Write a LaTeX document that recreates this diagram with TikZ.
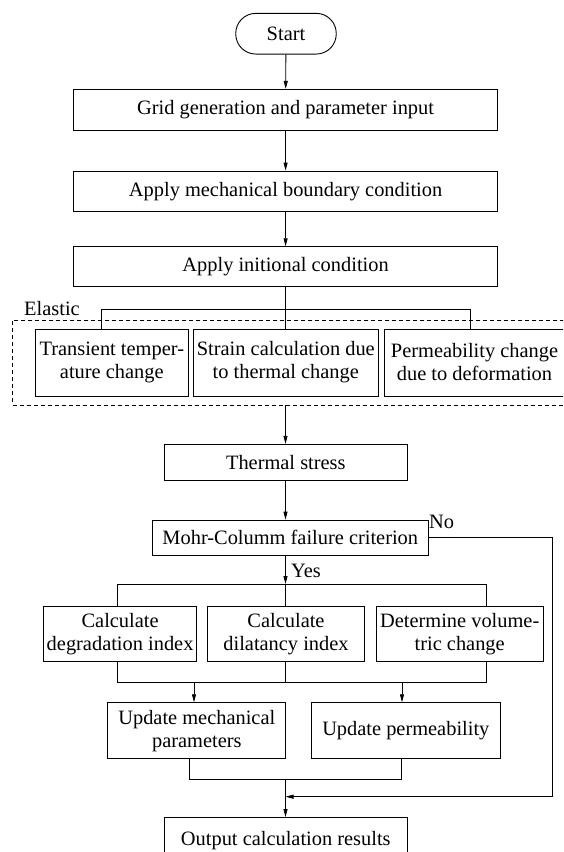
\documentclass[tikz,border=0pt]{standalone}
\usepackage{fontspec}
\setmainfont{Liberation Serif}
\usetikzlibrary{arrows.meta}
\tikzset{
  box/.style={draw, line width=0.9pt, inner sep=0pt, align=center, font=\fontsize{20.4}{23}\selectfont},
  term/.style={box, rounded corners=20pt},
  conn/.style={line width=0.8pt},
  arr/.style={conn, -{Triangle[length=8pt,width=4pt]}},
  lbl/.style={inner sep=0pt, font=\fontsize{20.4}{23}\selectfont},
  dashbox/.style={draw, dashed, line width=0.8pt, dash pattern=on 4pt off 3pt, inner sep=0pt}
}
\begin{document}
\begin{tikzpicture}[x=1pt,y=-1pt]
\useasboundingbox (0,0) rectangle (563,852);
\clip (0,0) rectangle (563,852);
\fill[white] (0,0) rectangle (563,852);
\coordinate (ax) at (285.5,0);

\node[term, minimum width=100.5pt, minimum height=40.7pt] (start) at (286,33.7) {Start};
\node[box, minimum width=424pt, minimum height=40.7pt] (grid) at (285.6,109.7) {Grid generation and parameter input};
\node[box, minimum width=424pt, minimum height=40.3pt] (mech) at (285.6,191.2) {Apply mechanical boundary condition};
\node[box, minimum width=424pt, minimum height=40pt] (init) at (285.6,266.7) {Apply initional condition};

\node[dashbox, minimum width=562.4pt, minimum height=85pt] (elas) at (293.8,362.5) {};
\node[lbl, anchor=base west] (elabel) at (24,315) {Elastic};
\node[box, minimum width=153.5pt, minimum height=67pt] (t1) at (111.8,362.5) {Transient temper-\\ature change};
\node[box, minimum width=184.5pt, minimum height=67pt] (t2) at (285.8,362.5) {Strain calculation due\\to thermal change};
\node[box, minimum width=181pt, minimum height=67pt] (t3) at (474.5,362.5) {Permeability change\\due to deformation};

\node[box, minimum width=242.5pt, minimum height=36.4pt] (therm) at (285.8,462.5) {Thermal stress};
\node[box, minimum width=275.4pt, minimum height=35.3pt] (mohr) at (290.3,537.7) {Mohr-Columm failure criterion};

\node[box, minimum width=153.4pt, minimum height=55.3pt] (c1) at (120.1,633.7) {Calculate\\degradation index};
\node[box, minimum width=157pt, minimum height=55.3pt] (c2) at (286,633.7) {Calculate\\dilatancy index};
\node[box, minimum width=166.7pt, minimum height=55.3pt] (c3) at (459.7,633.7) {Determine volume-\\tric change};

\node[box, minimum width=178pt, minimum height=56pt] (u1) at (196.8,730.7) {Update mechanical\\parameters};
\node[box, minimum width=189pt, minimum height=56pt] (u2) at (405.8,730.7) {Update permeability};

\node[box, minimum width=242.5pt, minimum height=47pt] (out) at (285.8,841) {Output calculation results};

\node[lbl, anchor=west] (yes) at (291,571) {Yes};
\node[lbl, anchor=west] (no) at (429,521.5) {No};

% junction coordinates
\coordinate (j1) at (285.5,309.3);
\coordinate (j1l) at (101,309.3);
\coordinate (j1r) at (470,309.3);
\coordinate (j2) at (285.5,584);
\coordinate (j2l) at (117.8,584);
\coordinate (j2r) at (486.5,584);
\coordinate (j3l) at (117.8,682.7);
\coordinate (j3r) at (486.5,682.7);
\coordinate (j3a) at (194,682.7);
\coordinate (j3b) at (402,682.7);
\coordinate (j4l) at (188.9,779);
\coordinate (j4r) at (401.4,779);
\coordinate (j4) at (285.5,779);
\coordinate (nr) at (552,537.7);
\coordinate (nb) at (552,796.7);
\coordinate (nj) at (285.5,796.7);

\draw[arr] (start) -- (grid);
\draw[arr] (grid) -- (mech);
\draw[arr] (mech) -- (init);
\draw[conn] (ax |- init.south) -- (ax |- t2.north);
\draw[conn] (t1.north -| j1l) -- (j1l) -- (j1r) -- (t3.north -| j1r);

\draw[arr] (ax |- elas.south) -- (ax |- therm.north);
\draw[arr] (ax |- therm.south) -- (ax |- mohr.north);
\draw[arr] (ax |- mohr.south) -- (j2);
\draw[conn] (c1.north -| j2l) -- (j2l) -- (j2r) -- (c3.north -| j2r);
\draw[conn] (j2) -- (ax |- c2.north);

\draw[conn] (c1.south -| j3l) -- (j3l) -- (j3r) -- (c3.south -| j3r);
\draw[conn] (ax |- c2.south) -- (ax |- j3l);
\draw[arr] (j3a) -- (j3a |- u1.north);
\draw[arr] (j3b) -- (j3b |- u2.north);

\draw[conn] (u1.south -| j4l) -- (j4l) -- (j4r) -- (u2.south -| j4r);
\draw[arr] (j4) -- (ax |- out.north);

\draw[conn] (mohr.east) -- (nr) -- (nb);
\draw[arr] (nb) -- (nj);
\end{tikzpicture}
\end{document}
